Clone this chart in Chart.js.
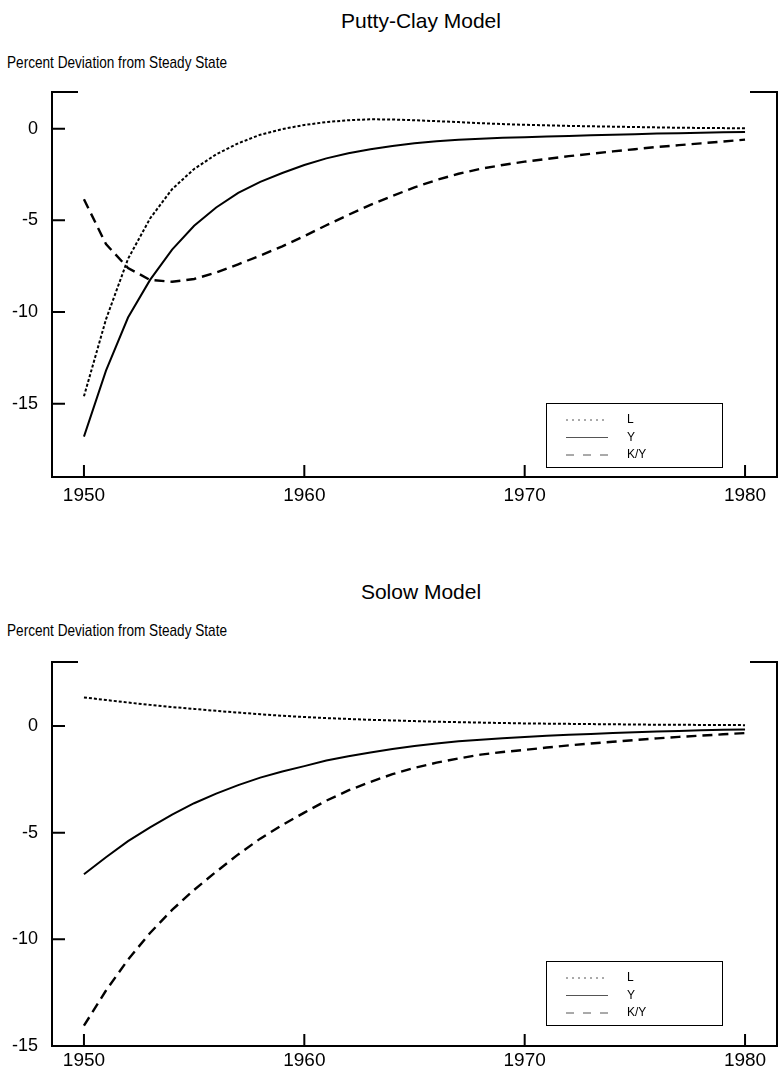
<!DOCTYPE html>
<html>
<head>
<meta charset="utf-8">
<script src="https://cdn.jsdelivr.net/npm/chart.js@4.4.1/dist/chart.umd.min.js"></script>
<style>
  body { margin: 0; background: #fff; width: 779px; height: 1072px; position: relative; overflow: hidden; font-family: "Liberation Sans", Arial, sans-serif; color: #000; }
  canvas { position: absolute; left: 0; }
  .title { position: absolute; left: 421px; transform: translate(-50%, -50%); font-size: 21px; white-space: nowrap; }
  .ylabel { position: absolute; left: 7px; transform-origin: 0 50%; transform: translateY(-50%) scaleX(0.8); font-size: 17px; white-space: nowrap; }
</style>
</head>
<body>
<div class="title" style="top:21px">Putty-Clay Model</div>
<div class="ylabel" style="top:63px">Percent Deviation from Steady State</div>
<canvas id="puttyChart" width="779" height="536" style="top:0"></canvas>

<div class="title" style="top:592px">Solow Model</div>
<div class="ylabel" style="top:631px">Percent Deviation from Steady State</div>
<canvas id="solowChart" width="779" height="536" style="top:536px"></canvas>

<script>
// anos e rótulos dos eixos
const years = [1950, 1951, 1952, 1953, 1954, 1955, 1956, 1957, 1958, 1959,
               1960, 1961, 1962, 1963, 1964, 1965, 1966, 1967, 1968, 1969,
               1970, 1971, 1972, 1973, 1974, 1975, 1976, 1977, 1978, 1979, 1980];
const xTicks = [1950, 1960, 1970, 1980];
const yTicks = [0, -5, -10, -15];
const seriesNames = ['L', 'Y', 'K/Y'];

// Putty-Clay
const puttyL = [-14.6, -10.4, -7.1, -4.9, -3.3, -2.2, -1.4, -0.8, -0.33, -0.02,
                0.2, 0.36, 0.46, 0.51, 0.5, 0.46, 0.41, 0.36, 0.3, 0.25,
                0.21, 0.18, 0.15, 0.13, 0.11, 0.09, 0.07, 0.05, 0.04, 0.03, 0.02];
const puttyY = [-16.8, -13.2, -10.3, -8.25, -6.6, -5.3, -4.3, -3.5, -2.9, -2.42,
                -1.98, -1.62, -1.34, -1.12, -0.94, -0.8, -0.69, -0.61, -0.55, -0.5,
                -0.47, -0.43, -0.4, -0.36, -0.33, -0.3, -0.27, -0.25, -0.22, -0.2, -0.18];
const puttyKY = [-3.85, -6.3, -7.6, -8.25, -8.35, -8.2, -7.85, -7.4, -6.92, -6.42,
                 -5.86, -5.27, -4.7, -4.16, -3.67, -3.2, -2.8, -2.46, -2.19, -1.98,
                 -1.8, -1.65, -1.5, -1.37, -1.24, -1.12, -1.0, -0.9, -0.8, -0.7, -0.6];

// Solow
const solowL = [1.34, 1.22, 1.1, 0.99, 0.89, 0.8, 0.71, 0.63, 0.55, 0.48,
                0.42, 0.37, 0.33, 0.29, 0.26, 0.23, 0.2, 0.18, 0.16, 0.14,
                0.12, 0.11, 0.1, 0.09, 0.08, 0.07, 0.06, 0.06, 0.05, 0.05, 0.04];
const solowY = [-6.95, -6.15, -5.4, -4.75, -4.15, -3.62, -3.17, -2.77, -2.42, -2.13,
                -1.88, -1.62, -1.42, -1.24, -1.08, -0.94, -0.82, -0.72, -0.64, -0.57,
                -0.51, -0.46, -0.41, -0.37, -0.33, -0.29, -0.26, -0.23, -0.2, -0.18, -0.16];
const solowKY = [-14.05, -12.4, -10.95, -9.7, -8.62, -7.68, -6.83, -6.02, -5.28, -4.64,
                 -4.06, -3.5, -3.02, -2.62, -2.26, -1.96, -1.72, -1.52, -1.34, -1.22,
                 -1.12, -1.01, -0.91, -0.82, -0.74, -0.66, -0.58, -0.51, -0.45, -0.39, -0.33];

Chart.defaults.font.family = '"Liberation Sans", Arial, sans-serif';
Chart.defaults.color = '#000';

/**
 * Desenha os eixos (esquerdo, direito, inferior, pontas no topo) e os ticks para dentro.
 */
const framePlugin = {
    id: 'frame',
    afterDraw(chart) {
        const { ctx, chartArea: a, scales } = chart;
        ctx.save();
        ctx.strokeStyle = '#000';
        ctx.lineWidth = 2;
        ctx.setLineDash([]);
        ctx.beginPath();
        ctx.moveTo(a.left + 26, a.top); ctx.lineTo(a.left, a.top); ctx.lineTo(a.left, a.bottom);
        ctx.lineTo(a.right, a.bottom); ctx.lineTo(a.right, a.top); ctx.lineTo(a.right - 27, a.top);
        scales.y.ticks.forEach(t => {
            const y = scales.y.getPixelForValue(t.value);
            ctx.moveTo(a.left, y); ctx.lineTo(a.left + 13, y);
        });
        scales.x.ticks.forEach(t => {
            const x = scales.x.getPixelForValue(t.value);
            ctx.moveTo(x, a.bottom); ctx.lineTo(x, a.bottom - 12);
        });
        ctx.stroke();
        ctx.restore();
    }
};

/**
 * Legenda em caixa dentro da área do gráfico.
 */
const boxLegendPlugin = {
    id: 'boxLegend',
    afterDraw(chart, args, opts) {
        const { ctx } = chart;
        ctx.save();
        ctx.strokeStyle = '#000';
        ctx.lineWidth = 1;
        ctx.setLineDash([]);
        ctx.strokeRect(opts.x + 0.5, opts.y + 0.5, 176, 64);
        ctx.font = '12px "Liberation Sans", Arial, sans-serif';
        ctx.fillStyle = '#000';
        ctx.textBaseline = 'middle';
        chart.data.datasets.forEach((ds, i) => {
            const ry = opts.y + 17 + i * 17.5;
            ctx.strokeStyle = '#555';
            ctx.lineWidth = 1;
            ctx.setLineDash(ds.legendDash);
            ctx.beginPath();
            ctx.moveTo(opts.x + 20, ry); ctx.lineTo(opts.x + 62, ry);
            ctx.stroke();
            ctx.fillText(ds.label, opts.x + 81, ry);
        });
        ctx.restore();
    }
};

function toPoints(values) {
    return values.map((v, i) => ({ x: years[i], y: v }));
}

function makeChart(id, L, Y, KY, yMin, yMax, padTop, xAxisHeight, xPad, legendY) {
    const styles = [
        { dash: [3, 2], legendDash: [2, 4], width: 2 },
        { dash: [], legendDash: [], width: 2 },
        { dash: [10, 6], legendDash: [8, 9], width: 2.4 }
    ];
    return new Chart(document.getElementById(id).getContext('2d'), {
        type: 'line',
        data: {
            datasets: [L, Y, KY].map((vals, i) => ({
                label: seriesNames[i],
                data: toPoints(vals),
                borderColor: '#000',
                borderWidth: styles[i].width,
                borderDash: styles[i].dash,
                legendDash: styles[i].legendDash,
                pointRadius: 0,
                tension: 0,
                fill: false
            }))
        },
        options: {
            responsive: false,
            animation: false,
            layout: { padding: { top: padTop, right: 2, left: 0, bottom: 0 } },
            plugins: {
                legend: { display: false },
                tooltip: { enabled: false },
                boxLegend: { x: 546, y: legendY }
            },
            scales: {
                x: {
                    type: 'linear',
                    min: 1948.55,
                    max: 1981.45,
                    grid: { display: false },
                    border: { display: false },
                    afterBuildTicks: s => { s.ticks = xTicks.map(v => ({ value: v })); },
                    afterFit: s => { s.height = xAxisHeight; },
                    ticks: { padding: xPad, font: { size: 19 }, maxRotation: 0, callback: v => String(v) }
                },
                y: {
                    min: yMin,
                    max: yMax,
                    grid: { display: false },
                    border: { display: false },
                    afterBuildTicks: s => { s.ticks = yTicks.map(v => ({ value: v })); },
                    afterFit: s => { s.width = 52; },
                    ticks: { padding: 6, font: { size: 18 } }
                }
            }
        },
        plugins: [framePlugin, boxLegendPlugin]
    });
}

document.addEventListener('DOMContentLoaded', function() {
    makeChart('puttyChart', puttyL, puttyY, puttyKY, -19, 2, 92, 59, -1, 403);
    makeChart('solowChart', solowL, solowY, solowKY, -15, 3, 126, 26, -5, 425);
});
</script>
</body>
</html>
